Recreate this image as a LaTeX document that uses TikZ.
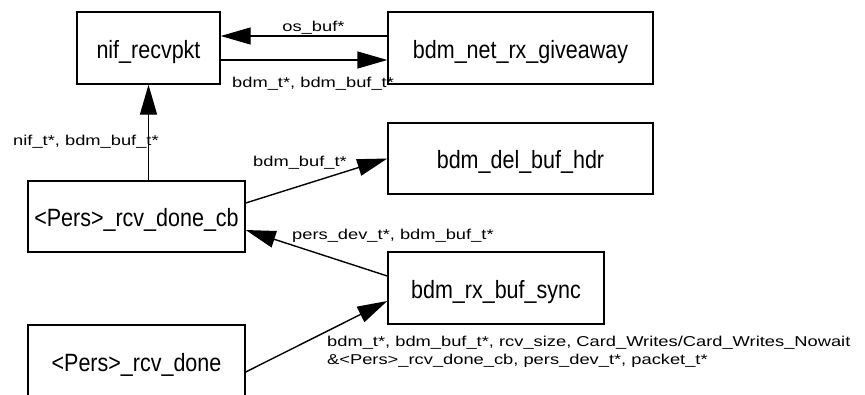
\documentclass[tikz,border=0pt]{standalone}
\usepackage{fontspec}
\usetikzlibrary{arrows.meta}
\newfontfamily\boxfont[FakeStretch=0.86]{Liberation Sans}
\newfontfamily\lblfont[FakeStretch=1.28]{Liberation Sans}
\begin{document}
\begin{tikzpicture}[x=1pt,y=-1pt,
  fn/.style={draw, line width=1.4pt, inner sep=0pt, text height=20pt, text depth=0pt,
    font=\boxfont\fontsize{25}{30}\selectfont},
  arr/.style={line width=1.4pt, -{Triangle[length=30pt 0 0,width=17pt 0 0]}},
  lbl/.style={inner sep=0pt, align=left, font=\lblfont\fontsize{14.3}{18}\selectfont}]
\clip (0,0) rectangle (865,394);
% function boxes
\node[fn, minimum width=143pt, minimum height=72pt] (nif) at (148.5,48) {nif\_recvpkt};
\node[fn, minimum width=265pt, minimum height=72pt] (give) at (520.5,48) {bdm\_net\_rx\_giveaway};
\node[fn, minimum width=265pt, minimum height=71pt] (del) at (520.5,158.5) {bdm\_del\_buf\_hdr};
\node[fn, minimum width=217pt, minimum height=71pt] (cb) at (136.5,216.5) {<Pers>\_rcv\_done\_cb};
\node[fn, minimum width=216pt, minimum height=72pt] (sync) at (496,288) {bdm\_rx\_buf\_sync};
\node[fn, minimum width=217pt, minimum height=72pt] (done) at (136.5,361) {<Pers>\_rcv\_done};
% calls
\draw[arr] ([yshift=12pt]give.west) -- ([yshift=12pt]nif.east);
\draw[arr] ([yshift=-12pt]nif.east) -- ([yshift=-12pt]give.west);
\draw[arr] ([xshift=12pt]cb.north) -- ([xshift=12pt]cb.north |- nif.south);
\draw[arr] ([yshift=13.5pt]cb.east) -- (del.west);
\draw[arr] ([yshift=12pt]sync.west) -- ([yshift=-13.5pt]cb.east);
\draw[arr] ([yshift=-11pt]done.east) -- ([yshift=-13pt]sync.west);
% argument labels
\node[lbl, anchor=base] (l1) at (313.5,31) {os\_buf*};
\node[lbl, anchor=base west] (l2) at (232,87) {bdm\_t*, bdm\_buf\_t*};
\node[lbl, anchor=base west] (l3) at (13,145.5) {nif\_t*, bdm\_buf\_t*};
\node[lbl, anchor=base west] (l4) at (253,166) {bdm\_buf\_t*};
\node[lbl, anchor=base west] (l5) at (292,239) {pers\_dev\_t*, bdm\_buf\_t*};
\node[lbl, anchor=base west] (l6) at (327,346) {bdm\_t*, bdm\_buf\_t*, rcv\_size, Card\_Writes/Card\_Writes\_Nowait};
\node[lbl, anchor=base west] (l7) at (327,364) {\&<Pers>\_rcv\_done\_cb, pers\_dev\_t*, packet\_t*};
\end{tikzpicture}
\end{document}
